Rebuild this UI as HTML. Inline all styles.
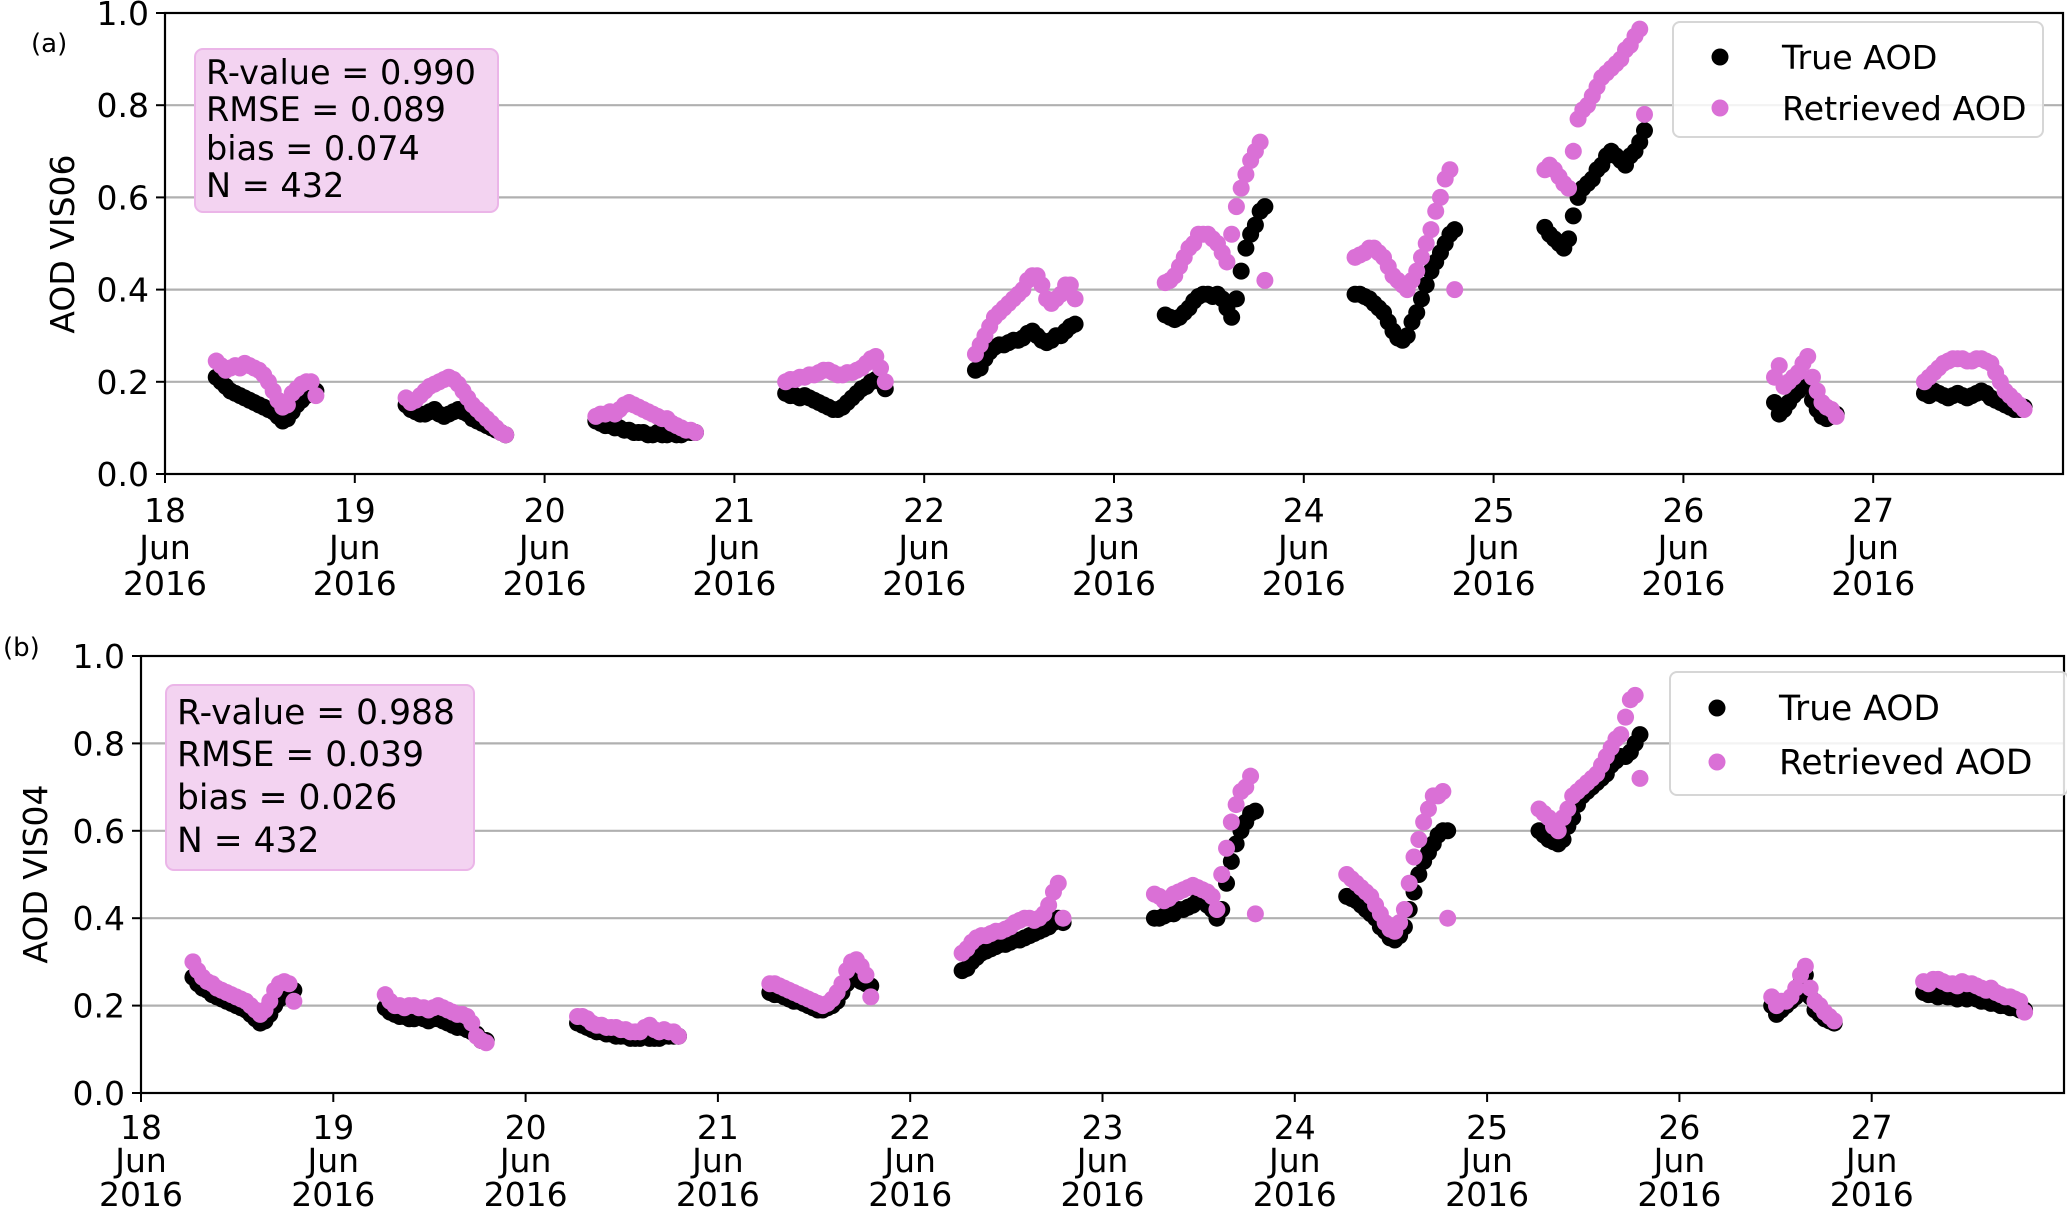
<!DOCTYPE html>
<html><head><meta charset="utf-8">
<style>
html,body{margin:0;padding:0;background:#fff;}
svg{display:block;font-family:"DejaVu Sans","Liberation Sans",sans-serif;}
</style></head>
<body>
<svg id="fig" width="2067" height="1207" viewBox="0 0 2067 1207" xmlns="http://www.w3.org/2000/svg"></svg>
<script>
// ---- shared data ----
const dayTicks = [18,19,20,21,22,23,24,25,26,27];
const yTickLabels = ["0.0","0.2","0.4","0.6","0.8","1.0"];
const yTickValues = [0,0.2,0.4,0.6,0.8,1.0];
const segDays = [18,19,20,21,22,23,24,25,26,27];
const segStart = [0.27,0.27,0.27,0.27,0.27,0.27,0.27,0.27,0.48,0.27];
const segStep = 0.025;

// ---- panel (a) VIS06 ----
const trueA = [
[0.21,0.20,0.19,0.18,0.175,0.17,0.165,0.16,0.155,0.15,0.145,0.14,0.135,0.125,0.115,0.12,0.135,0.15,0.16,0.17,0.175,0.18],
[0.15,0.14,0.135,0.13,0.13,0.135,0.14,0.13,0.125,0.13,0.135,0.14,0.135,0.13,0.12,0.115,0.11,0.105,0.10,0.095,0.09,0.085],
[0.115,0.11,0.105,0.105,0.10,0.10,0.095,0.095,0.09,0.09,0.09,0.085,0.085,0.09,0.085,0.085,0.09,0.085,0.085,0.09,0.09,0.09],
[0.175,0.17,0.17,0.165,0.17,0.165,0.16,0.155,0.15,0.145,0.14,0.14,0.145,0.155,0.165,0.175,0.185,0.19,0.20,0.205,0.20,0.185],
[0.225,0.23,0.25,0.265,0.275,0.28,0.28,0.285,0.29,0.29,0.295,0.305,0.31,0.30,0.29,0.285,0.29,0.30,0.30,0.31,0.32,0.325],
[0.345,0.34,0.335,0.34,0.35,0.36,0.375,0.385,0.39,0.39,0.385,0.39,0.38,0.36,0.34,0.38,0.44,0.49,0.52,0.54,0.57,0.58],
[0.39,0.39,0.385,0.38,0.37,0.36,0.35,0.33,0.31,0.295,0.29,0.30,0.33,0.35,0.38,0.41,0.44,0.46,0.48,0.50,0.52,0.53],
[0.535,0.52,0.51,0.50,0.49,0.51,0.56,0.60,0.62,0.63,0.64,0.66,0.67,0.69,0.70,0.69,0.68,0.67,0.69,0.70,0.72,0.745],
[0.155,0.13,0.14,0.155,0.17,0.18,0.19,0.19,0.16,0.14,0.125,0.12,0.125,0.13],
[0.175,0.17,0.18,0.175,0.17,0.165,0.17,0.175,0.17,0.165,0.17,0.175,0.18,0.175,0.165,0.16,0.155,0.15,0.145,0.14,0.14,0.145]];
const retA = [
[0.245,0.235,0.225,0.23,0.235,0.23,0.24,0.235,0.23,0.225,0.215,0.20,0.18,0.16,0.145,0.15,0.175,0.185,0.195,0.20,0.20,0.17],
[0.165,0.155,0.16,0.17,0.18,0.19,0.195,0.20,0.205,0.21,0.205,0.195,0.18,0.165,0.15,0.14,0.13,0.12,0.11,0.10,0.09,0.085],
[0.125,0.13,0.13,0.135,0.13,0.14,0.15,0.155,0.15,0.145,0.14,0.135,0.13,0.125,0.12,0.12,0.11,0.105,0.10,0.095,0.095,0.09],
[0.20,0.205,0.205,0.21,0.21,0.215,0.215,0.22,0.225,0.225,0.22,0.215,0.215,0.22,0.22,0.225,0.23,0.24,0.25,0.255,0.23,0.20],
[0.26,0.28,0.30,0.32,0.34,0.35,0.36,0.37,0.38,0.39,0.40,0.42,0.43,0.43,0.41,0.38,0.37,0.38,0.39,0.41,0.41,0.38],
[0.415,0.42,0.43,0.45,0.47,0.49,0.50,0.52,0.52,0.52,0.51,0.50,0.48,0.46,0.52,0.58,0.62,0.65,0.68,0.70,0.72,0.42],
[0.47,0.475,0.48,0.49,0.49,0.48,0.47,0.45,0.43,0.42,0.41,0.40,0.42,0.44,0.47,0.50,0.53,0.57,0.60,0.64,0.66,0.40],
[0.66,0.67,0.66,0.645,0.63,0.62,0.70,0.77,0.79,0.80,0.82,0.84,0.86,0.87,0.88,0.89,0.90,0.92,0.93,0.95,0.965,0.78],
[0.21,0.235,0.19,0.20,0.21,0.22,0.24,0.255,0.21,0.18,0.155,0.145,0.14,0.125],
[0.20,0.21,0.22,0.23,0.24,0.245,0.25,0.25,0.25,0.245,0.245,0.25,0.25,0.245,0.24,0.22,0.20,0.18,0.17,0.16,0.15,0.14]];
const statsA = ["R-value = 0.990","RMSE = 0.089","bias = 0.074","N = 432"];

// ---- panel (b) VIS04 ----
const trueB = [
[0.265,0.25,0.24,0.235,0.225,0.22,0.215,0.21,0.205,0.20,0.195,0.19,0.18,0.17,0.16,0.165,0.18,0.20,0.215,0.225,0.23,0.235],
[0.195,0.185,0.18,0.175,0.175,0.17,0.17,0.175,0.17,0.165,0.17,0.17,0.165,0.16,0.155,0.15,0.15,0.145,0.14,0.135,0.12,0.12],
[0.16,0.155,0.15,0.145,0.14,0.14,0.135,0.135,0.13,0.13,0.13,0.125,0.125,0.125,0.13,0.125,0.125,0.125,0.13,0.13,0.13,0.13],
[0.23,0.225,0.225,0.22,0.215,0.21,0.21,0.205,0.20,0.195,0.19,0.19,0.195,0.20,0.21,0.23,0.25,0.26,0.265,0.255,0.25,0.245],
[0.28,0.285,0.30,0.31,0.32,0.325,0.33,0.335,0.34,0.34,0.345,0.35,0.35,0.355,0.36,0.365,0.37,0.375,0.38,0.39,0.40,0.39],
[0.40,0.40,0.405,0.41,0.41,0.42,0.42,0.425,0.43,0.44,0.44,0.43,0.42,0.40,0.42,0.48,0.53,0.57,0.60,0.62,0.64,0.645],
[0.45,0.445,0.44,0.43,0.42,0.41,0.40,0.38,0.37,0.355,0.35,0.36,0.38,0.42,0.46,0.50,0.53,0.55,0.57,0.59,0.60,0.60],
[0.60,0.59,0.58,0.575,0.57,0.58,0.61,0.63,0.66,0.68,0.69,0.70,0.71,0.72,0.73,0.75,0.76,0.77,0.77,0.78,0.80,0.82],
[0.20,0.18,0.19,0.20,0.21,0.22,0.25,0.27,0.22,0.19,0.18,0.17,0.165,0.16],
[0.23,0.225,0.225,0.22,0.225,0.22,0.22,0.215,0.22,0.215,0.22,0.215,0.21,0.21,0.205,0.205,0.20,0.20,0.195,0.195,0.19,0.19]];
const retB = [
[0.30,0.28,0.265,0.255,0.25,0.24,0.235,0.23,0.225,0.22,0.215,0.21,0.20,0.19,0.18,0.19,0.21,0.235,0.25,0.255,0.25,0.21],
[0.225,0.21,0.20,0.20,0.195,0.20,0.20,0.195,0.195,0.19,0.195,0.20,0.195,0.19,0.185,0.18,0.18,0.175,0.16,0.13,0.12,0.115],
[0.175,0.175,0.17,0.16,0.155,0.155,0.15,0.15,0.15,0.145,0.145,0.14,0.14,0.14,0.15,0.155,0.145,0.14,0.145,0.14,0.14,0.13],
[0.25,0.25,0.245,0.24,0.235,0.23,0.225,0.22,0.215,0.21,0.205,0.20,0.205,0.215,0.23,0.25,0.28,0.30,0.305,0.29,0.27,0.22],
[0.32,0.33,0.345,0.355,0.36,0.36,0.365,0.37,0.37,0.375,0.38,0.39,0.395,0.40,0.40,0.395,0.40,0.41,0.43,0.46,0.48,0.40],
[0.455,0.45,0.44,0.445,0.455,0.46,0.465,0.47,0.475,0.47,0.465,0.46,0.45,0.42,0.50,0.56,0.62,0.66,0.69,0.70,0.725,0.41],
[0.50,0.49,0.48,0.47,0.46,0.45,0.43,0.41,0.39,0.375,0.37,0.39,0.42,0.48,0.54,0.58,0.62,0.65,0.68,0.68,0.69,0.40],
[0.65,0.64,0.63,0.61,0.60,0.63,0.65,0.68,0.69,0.70,0.71,0.72,0.73,0.75,0.77,0.79,0.81,0.82,0.86,0.90,0.91,0.72],
[0.22,0.20,0.21,0.21,0.22,0.24,0.27,0.29,0.24,0.21,0.20,0.185,0.175,0.165],
[0.255,0.25,0.26,0.26,0.255,0.25,0.25,0.245,0.255,0.25,0.25,0.245,0.24,0.235,0.24,0.23,0.225,0.22,0.22,0.215,0.21,0.185]];
const statsB = ["R-value = 0.988","RMSE = 0.039","bias = 0.026","N = 432"];

const NS = "http://www.w3.org/2000/svg";
const svg = document.getElementById('fig');
function mk(tag, attrs, parent){
  const e = document.createElementNS(NS, tag);
  for (const k in attrs) e.setAttribute(k, attrs[k]);
  (parent||svg).appendChild(e);
  return e;
}

function panel(cfg){
  const g = mk('g', {});
  
  
  const L=cfg.left,R=cfg.right,T=cfg.top,B=cfg.bottom;
  const xs = d => L + (d-18)/10*(R-L);
  const ys = v => B - v*(B-T);
  yTickValues.forEach((v,i)=>{
    if (v>0 && v<1){
      const gl = mk('line',{x1:L,x2:R,y1:ys(v),y2:ys(v),stroke:'#b0b0b0','stroke-width':2.2},g);
      
      
    }
    const tk = mk('line',{x1:L-9,x2:L,y1:ys(v),y2:ys(v),stroke:'#000','stroke-width':2},g);
    
    
    const tl = mk('text',{x:L-16,y:ys(v)+12,'text-anchor':'end','font-size':33,fill:'#000'},g);
    
    
    tl.textContent = yTickLabels[i];
  });
  dayTicks.forEach(d=>{
    const x = xs(d);
    const tk = mk('line',{x1:x,x2:x,y1:B,y2:B+9,stroke:'#000','stroke-width':2},g);
    
    
    const t = mk('text',{x:x,'text-anchor':'middle','font-size':33,fill:'#000'},g);
    
    
    [String(d),'Jun','2016'].forEach((s,j)=>{
      const ts = mk('tspan',{x:x,y:cfg.xl[j]},t); ts.textContent=s;
    });
  });
  const series = [[cfg.tr,'#000','true-aod-point'],[cfg.rt,'#da70d6','retrieved-aod-point']];
  series.forEach(([data,col,nm])=>{
    data.forEach((seg,si)=>{
      seg.forEach((v,i)=>{
        const c = mk('circle',{cx:xs(segDays[si]+segStart[si]+i*segStep),cy:ys(v),r:8.5,fill:col},g);
        
        
      });
    });
  });
  const fr = mk('rect',{x:L,y:T,width:R-L,height:B-T,fill:'none',stroke:'#000','stroke-width':2.2},g);
  
  
  const yt = mk('text',{x:cfg.ytx,y:cfg.yty,'text-anchor':'middle','font-size':33,transform:`rotate(-90 ${cfg.ytx} ${cfg.yty})`},g);
  
  
  yt.textContent = cfg.ytitle;
  const pl = mk('text',{x:cfg.plx,y:cfg.ply,'font-size':26},g);
  
  
  pl.textContent = cfg.plabel;
  const sb = mk('rect',{x:cfg.box[0],y:cfg.box[1],width:cfg.box[2],height:cfg.box[3],rx:8,fill:'#f3d3f1',stroke:'#ebb5e8','stroke-width':2},g);
  
  
  cfg.stats.forEach((s,i)=>{
    const t = mk('text',{x:cfg.box[0]+11,y:cfg.sy[i],'font-size':cfg.fs,fill:'#000'},g);
    
    
    t.textContent = s;
  });
  const lg = mk('rect',{x:cfg.leg[0],y:cfg.leg[1],width:cfg.leg[2],height:cfg.leg[3],rx:7,fill:'rgba(255,255,255,0.85)',stroke:'#d6d6d6','stroke-width':2},g);
  
  
  [['True AOD','#000'],['Retrieved AOD','#da70d6']].forEach(([lab,col],i)=>{
    const m = mk('circle',{cx:cfg.lm[0],cy:cfg.lm[1+i],r:8.5,fill:col},g);
    
    
    const t = mk('text',{x:cfg.lt,y:cfg.lm[1+i]+12,'font-size':cfg.lfs,fill:'#000'},g);
    
    
    t.textContent = lab;
  });
}

panel({name:'panel-a-vis06',left:165,right:2063,top:13,bottom:474,xl:[522,559,595],
  tr:trueA,rt:retA,ytitle:'AOD VIS06',ytx:74,yty:244,plabel:'(a)',plx:31,ply:52,
  box:[195,49,303,163],stats:statsA,sy:[84,121,160,197],fs:33.5,lfs:33.3,
  leg:[1673,22,370,115],lm:[1720,57,108],lt:1782});
panel({name:'panel-b-vis04',left:141,right:2064,top:656,bottom:1093,xl:[1139,1172,1206],
  tr:trueB,rt:retB,ytitle:'AOD VIS04',ytx:47,yty:874,plabel:'(b)',plx:3,ply:656,
  box:[166,685,308,185],stats:statsB,sy:[724,766,809,852],fs:34.5,lfs:34.5,
  leg:[1670,672,398,123],lm:[1717,708,762],lt:1779});
</script>
</body></html>
